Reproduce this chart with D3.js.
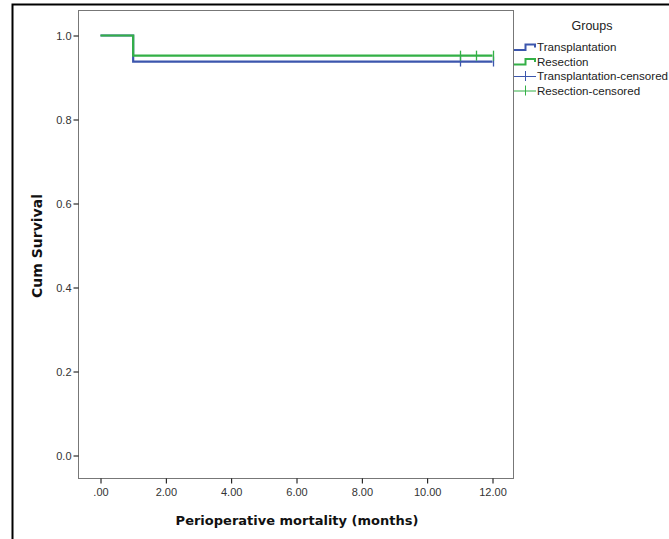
<!DOCTYPE html>
<html><head><meta charset="utf-8">
<script src="https://cdn.jsdelivr.net/npm/d3@7"></script>
<style>body{margin:0;background:#fff}svg{display:block;font-family:"Liberation Sans",Arial,sans-serif}</style>
</head><body><svg id="c" width="669" height="539"></svg>
<script>
const xTicks = [0, 2, 4, 6, 8, 10, 12];
const yTicks = [0, 0.2, 0.4, 0.6, 0.8, 1.0];
const groups = ["Transplantation", "Resection"];
const colors = ["#3c56ad", "#33b046"];
const transTimes = [0, 1, 12];
const transSurv = [1.0, 0.938, 0.938];
const resTimes = [0, 1, 12];
const resSurv = [1.0, 0.952, 0.952];
const transCensored = [11, 12];
const resCensored = [11, 11.5, 12];
const legendLabels = ["Transplantation", "Resection", "Transplantation-censored", "Resection-censored"];

const svg = d3.select("#c");
// outer frame
svg.append("path").attr("d","M12.5,540 V4.5 H670").attr("fill","none").attr("stroke","#000").attr("stroke-width",2);

const box = {l:78.5, t:10.5, r:513.5, b:478.5};
const x = d3.scaleLinear().domain([0,12]).range([100.5,492.5]);
const y = d3.scaleLinear().domain([0,1]).range([455.5,35.5]);

svg.append("rect").attr("x",box.l).attr("y",box.t).attr("width",box.r-box.l).attr("height",box.b-box.t)
  .attr("fill","none").attr("stroke","#777").attr("stroke-width",1);

// y axis
const ya = svg.append("g").attr("transform",`translate(${box.l},0)`)
  .call(d3.axisLeft(y).tickValues(yTicks).tickFormat(d3.format(".1f")).tickSize(5).tickPadding(2));
ya.select(".domain").remove();
ya.selectAll("line").attr("stroke","#000");
ya.selectAll("text").attr("font-size",11).attr("fill","#333").attr("font-family","Liberation Sans, Arial");

// x axis
const xa = svg.append("g").attr("transform",`translate(0,${box.b})`)
  .call(d3.axisBottom(x).tickValues(xTicks).tickFormat(d => d===0 ? ".00" : d3.format(".2f")(d)).tickSize(5).tickPadding(5));
xa.select(".domain").remove();
xa.selectAll("line").attr("stroke","#000");
xa.selectAll("text").attr("font-size",11).attr("fill","#333").attr("font-family","Liberation Sans, Arial");

// axis titles
svg.append("text").attr("x",297).attr("y",525).attr("text-anchor","middle").attr("font-family","DejaVu Sans")
  .attr("font-size",13).attr("font-weight","bold").attr("fill","#111").text("Perioperative mortality (months)");
svg.append("text").attr("transform","translate(42,246) rotate(-90)").attr("text-anchor","middle").attr("font-family","DejaVu Sans")
  .attr("font-size",14).attr("font-weight","bold").attr("fill","#111").text("Cum Survival");

// curves
const step = d3.line().x(d=>x(d[0])).y(d=>y(d[1])).curve(d3.curveStepAfter);
const series = [
  {times:transTimes, surv:transSurv, cens:transCensored, color:colors[0]},
  {times:resTimes, surv:resSurv, cens:resCensored, color:colors[1]}
];
series.forEach(s => {
  const pts = s.times.map((t,i)=>[t,s.surv[i]]);
  svg.append("path").attr("d",step(pts)).attr("fill","none").attr("stroke",s.color).attr("stroke-width",2.2);
});
series.forEach(s => {
  const last = s.surv[s.surv.length-1];
  s.cens.forEach(t => {
    svg.append("line").attr("x1",Math.round(x(t))+0.5).attr("x2",Math.round(x(t))+0.5)
      .attr("y1",y(last)-5).attr("y2",y(last)+5).attr("stroke",s.color).attr("stroke-width",1.3);
  });
});

// legend
svg.append("text").attr("x",592).attr("y",30).attr("text-anchor","middle").attr("font-size",12.5).attr("fill","#222").text("Groups");
const ly = [47, 61.5, 76, 90.5];
legendLabels.forEach((lab,i) => {
  const c = colors[i%2];
  const yy = ly[i];
  if (i < 2) {
    svg.append("path").attr("d",`M514,${yy+3} H525.5 V${yy-2.5} H535 V${yy+0.5}`).attr("fill","none").attr("stroke",c).attr("stroke-width",2);
  } else {
    svg.append("line").attr("x1",514).attr("x2",536).attr("y1",yy+0.5).attr("y2",yy+0.5).attr("stroke",c).attr("stroke-width",1);
    svg.append("line").attr("x1",525.5).attr("x2",525.5).attr("y1",yy-5).attr("y2",yy+5).attr("stroke",c).attr("stroke-width",1);
  }
  svg.append("text").attr("x",537).attr("y",yy+4).attr("font-size",11.6).attr("fill","#222").text(lab);
});
</script></body></html>
